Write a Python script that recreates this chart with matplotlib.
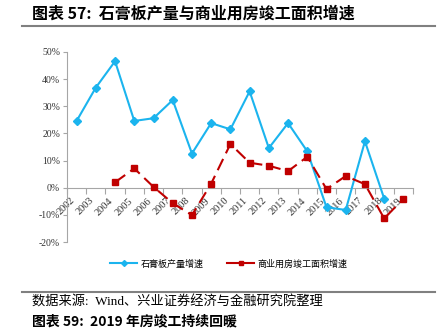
import matplotlib.pyplot as plt
import matplotlib.lines as mlines
import numpy as np

plt.rcParams['font.family'] = ['Noto Sans CJK SC', 'DejaVu Sans']

years = [str(y) for y in range(2002, 2020)]
# 石膏板产量增速 (%), 2002-2018
gypsum = [24.6, 36.9, 46.6, 24.6, 25.6, 32.3, 12.6, 23.8, 21.5, 35.5, 14.6, 23.8, 13.4, -7.2, -8.2, 17.1, -4.0]
# 商业用房竣工面积增速 (%), 2004-2019
commercial = [2.0, 7.1, 0.3, -5.7, -10.1, 1.5, 16.1, 9.2, 8.1, 6.1, 11.4, -0.5, 4.3, 1.3, -11.3, -4.1]
yticks = [-20, -10, 0, 10, 20, 30, 40, 50]

blue = '#1BB4EE'
red = '#C00000'
grey = '#A6A6A6'

fig = plt.figure(figsize=(4.42, 3.30), dpi=100)
ax = fig.add_axes([67 / 442, 1 - 242 / 330, 346 / 442, 190 / 330])

x = np.arange(len(years))
ax.plot(x[:len(gypsum)], gypsum, color=blue, lw=1.5, marker='D', ms=4,
        mec=blue, mfc=blue, zorder=3)
ax.plot(x[2:2 + len(commercial)], commercial, color=red, lw=1.5, marker='s', ms=4.5,
        dashes=(6, 3), zorder=3)

ax.set_xlim(-0.5, len(years) - 0.5)
ax.set_ylim(-20, 50)
ax.set_yticks(yticks)
ax.set_yticklabels([f'{v}%' for v in yticks], family='Liberation Serif', fontsize=7)

for s in ['top', 'right']:
    ax.spines[s].set_visible(False)
ax.spines['left'].set_color(grey)
ax.spines['bottom'].set_color(grey)
ax.spines['bottom'].set_position(('data', 0))
ax.tick_params(axis='y', colors=grey, length=3, width=0.8, pad=2, labelcolor='#333333')

ax.set_xticks(x)
ax.set_xticklabels(years, family='Liberation Serif', fontsize=7.5, rotation=45,
                   ha='right', va='top', color='#333333')
ax.tick_params(axis='x', which='major', length=0, pad=6)
ax.set_xticks(np.arange(-0.5, len(years)), minor=True)
ax.tick_params(axis='x', which='minor', length=4, width=0.8, colors=grey, direction='out')

h1 = mlines.Line2D([], [], color=blue, lw=1.5, marker='D', ms=3)
h2 = mlines.Line2D([], [], color=red, lw=1.5, marker='s', ms=3.5)
fig.legend([h1, h2], ['石膏板产量增速', '商业用房竣工面积增速'], loc='center',
           bbox_to_anchor=(229 / 442, 1 - 264 / 330), ncol=2, frameon=False,
           fontsize=6.5, handlelength=3.0, columnspacing=2.6, handletextpad=0.4)

# 标题与分隔线
fig.text(32 / 442, 1 - 14 / 330, '图表 57:  石膏板产量与商业用房竣工面积增速',
         fontsize=11.5, fontweight='bold', va='center', ha='left')
fig.add_artist(mlines.Line2D([22 / 442, 435 / 442], [1 - 26 / 330] * 2, color='#808080', lw=1.5))
fig.add_artist(mlines.Line2D([22 / 442, 435 / 442], [1 - 292 / 330] * 2, color='#808080', lw=1.5))
fig.text(32 / 442, 1 - 302 / 330, '数据来源:  Wind、兴业证券经济与金融研究院整理',
         fontsize=9.5, va='center', ha='left', family=['Liberation Serif', 'Noto Sans CJK SC'])
fig.text(32 / 442, 1 - 321 / 330, '图表 59:  2019 年房竣工持续回暖',
         fontsize=10, fontweight='bold', va='center', ha='left')

fig.savefig('out.png', dpi=100)
